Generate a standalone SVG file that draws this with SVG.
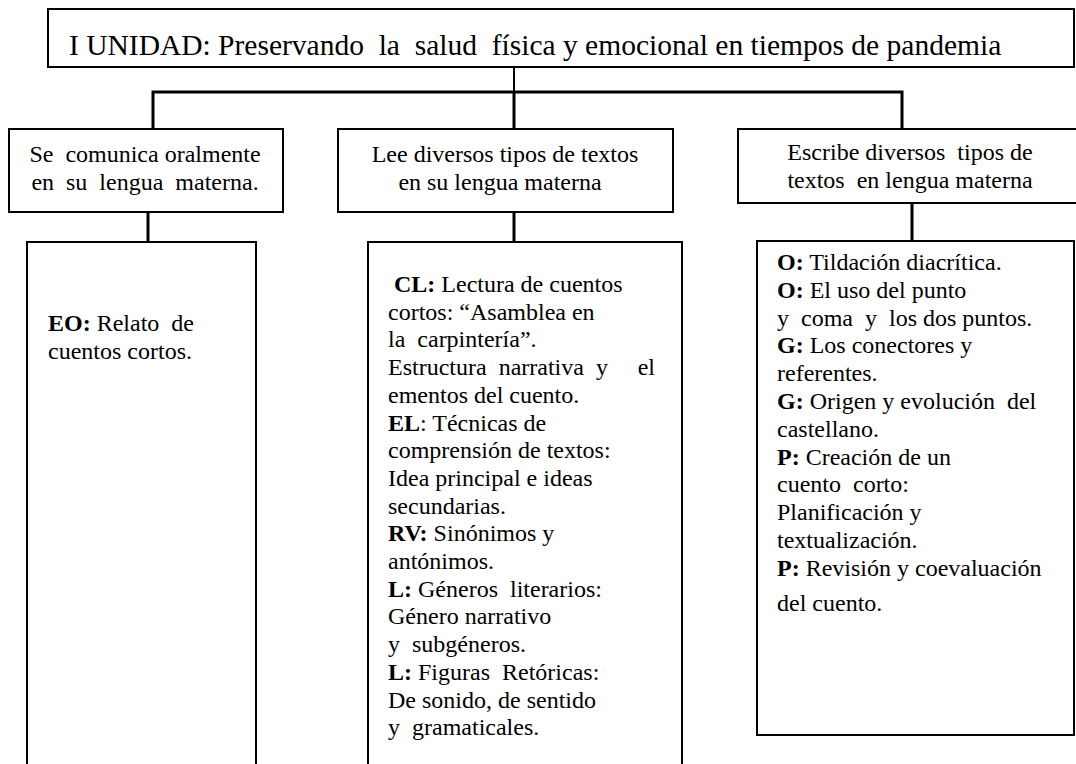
<svg xmlns="http://www.w3.org/2000/svg" width="1076" height="764" viewBox="0 0 1076 764">
<style>
.box{fill:#fff;stroke:#000;stroke-width:2}
.t{font-family:"Liberation Serif","Times New Roman",serif;font-size:24px;fill:#000}
.c{text-anchor:middle}
.b{font-weight:bold}
.title{font-family:"Liberation Serif","Times New Roman",serif;font-size:29.5px;fill:#000}
.ln{stroke:#000;stroke-width:3;fill:none}
.ln2{stroke:#000;stroke-width:2;fill:none}
</style>
<rect width="1076" height="764" fill="#fff"/>
<g id="connectors">
<line class="ln2" x1="514" y1="68" x2="514" y2="92"/>
<path class="ln" d="M153 129 V92 H902 V129"/>
<line class="ln" x1="514" y1="92" x2="514" y2="129"/>
<line class="ln" x1="148" y1="212" x2="148" y2="242"/>
<line class="ln" x1="514" y1="212" x2="514" y2="242"/>
<line class="ln" x1="912" y1="203" x2="912" y2="241"/>
</g>
<g id="title">
<rect class="box" x="48" y="9" width="1026" height="58"/>
<text class="title" x="69" y="55" xml:space="preserve">I UNIDAD: Preservando  la  salud  física y emocional en tiempos de pandemia</text>
</g>
<g id="comp1">
<rect class="box" x="9" y="129" width="274" height="83"/>
<text class="t c" x="145" y="162" xml:space="preserve">Se  comunica oralmente</text>
<text class="t c" x="145" y="190" xml:space="preserve">en  su  lengua  materna.</text>
</g>
<g id="comp2">
<rect class="box" x="338" y="129" width="335" height="83"/>
<text class="t c" x="505" y="162">Lee diversos tipos de textos</text>
<text class="t c" x="500" y="190">en su lengua materna</text>
</g>
<g id="comp3">
<rect class="box" x="738" y="129" width="345" height="74"/>
<text class="t c" x="910" y="160" xml:space="preserve">Escribe diversos  tipos de</text>
<text class="t c" x="910" y="188" xml:space="preserve">textos  en lengua materna</text>
</g>
<g id="content1">
<rect class="box" x="27" y="242" width="229" height="530"/>
<text class="t" x="48" y="331" xml:space="preserve"><tspan class="b">EO:</tspan> Relato  de</text>
<text class="t" x="48" y="359">cuentos cortos.</text>
</g>
<g id="content2">
<rect class="box" x="368" y="242" width="314" height="530"/>
<text class="t" x="388" y="292" xml:space="preserve"> <tspan class="b">CL:</tspan> Lectura de cuentos</text>
<text class="t" x="388" y="319.7">cortos: “Asamblea en</text>
<text class="t" x="388" y="347.4" xml:space="preserve">la  carpintería”.</text>
<text class="t" x="388" y="375.1" xml:space="preserve">Estructura  narrativa  y</text>
<text class="t" x="655" y="375.1" text-anchor="end">el</text>
<text class="t" x="388" y="402.8">ementos del cuento.</text>
<text class="t" x="388" y="430.5"><tspan class="b">EL</tspan>: Técnicas de</text>
<text class="t" x="388" y="458.2">comprensión de textos:</text>
<text class="t" x="388" y="485.9">Idea principal e ideas</text>
<text class="t" x="388" y="513.6">secundarias.</text>
<text class="t" x="388" y="541.3"><tspan class="b">RV:</tspan> Sinónimos y</text>
<text class="t" x="388" y="569">antónimos.</text>
<text class="t" x="388" y="596.7" xml:space="preserve"><tspan class="b">L:</tspan> Géneros  literarios:</text>
<text class="t" x="388" y="624.4">Género narrativo</text>
<text class="t" x="388" y="652.1" xml:space="preserve">y  subgéneros.</text>
<text class="t" x="388" y="679.8" xml:space="preserve"><tspan class="b">L:</tspan> Figuras  Retóricas:</text>
<text class="t" x="388" y="707.5">De sonido, de sentido</text>
<text class="t" x="388" y="735.2" xml:space="preserve">y  gramaticales.</text>
</g>
<g id="content3">
<rect class="box" x="757" y="241" width="317" height="494"/>
<text class="t" x="777" y="270"><tspan class="b">O:</tspan> Tildación diacrítica.</text>
<text class="t" x="777" y="297.8"><tspan class="b">O:</tspan> El uso del punto</text>
<text class="t" x="777" y="325.6" xml:space="preserve">y  coma  y  los dos puntos.</text>
<text class="t" x="777" y="353.4"><tspan class="b">G:</tspan> Los conectores y</text>
<text class="t" x="777" y="381.2">referentes.</text>
<text class="t" x="777" y="409" xml:space="preserve"><tspan class="b">G:</tspan> Origen y evolución  del</text>
<text class="t" x="777" y="436.8">castellano.</text>
<text class="t" x="777" y="464.6"><tspan class="b">P:</tspan> Creación de un</text>
<text class="t" x="777" y="492.4" xml:space="preserve">cuento  corto:</text>
<text class="t" x="777" y="520.2">Planificación y</text>
<text class="t" x="777" y="548">textualización.</text>
<text class="t" x="777" y="575.8"><tspan class="b">P:</tspan> Revisión y coevaluación</text>
<text class="t" x="777" y="611">del cuento.</text>
</g>
</svg>
